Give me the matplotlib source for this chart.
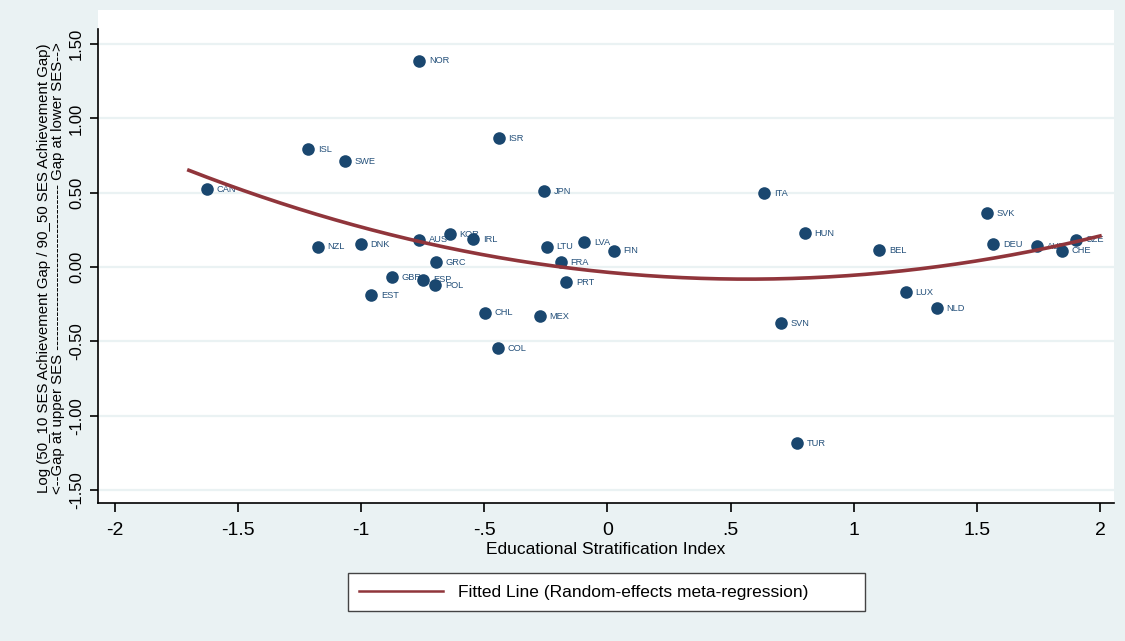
import numpy as np
import matplotlib.pyplot as plt

plt.rcParams['font.family'] = ['Liberation Sans', 'DejaVu Sans']

# country codes, stratification index, log gap ratio
countries = ['NOR', 'ISR', 'ISL', 'SWE', 'CAN', 'JPN', 'ITA', 'SVK', 'HUN',
             'NZL', 'DNK', 'AUS', 'KOR', 'IRL', 'LTU', 'LVA', 'FIN', 'BEL',
             'DEU', 'AUT', 'CZE', 'CHE', 'GRC', 'FRA', 'GBR', 'ESP', 'POL',
             'PRT', 'EST', 'LUX', 'NLD', 'CHL', 'MEX', 'SVN', 'COL', 'TUR']
esi = [-0.765, -0.441, -1.216, -1.066, -1.627, -0.258, 0.636, 1.541, 0.802,
       -1.176, -1.001, -0.765, -0.640, -0.546, -0.246, -0.095, 0.026, 1.103,
       1.566, 1.744, 1.903, 1.846, -0.696, -0.189, -0.875, -0.749, -0.700,
       -0.168, -0.960, 1.212, 1.338, -0.497, -0.274, 0.704, -0.445, 0.770]
log_gap = [1.386, 0.868, 0.794, 0.713, 0.525, 0.511, 0.498, 0.363, 0.229,
           0.135, 0.155, 0.182, 0.222, 0.188, 0.135, 0.168, 0.108, 0.114,
           0.155, 0.141, 0.182, 0.108, 0.034, 0.034, -0.067, -0.087, -0.121,
           -0.101, -0.188, -0.168, -0.276, -0.309, -0.330, -0.377, -0.545, -1.184]

# quadratic fit (random-effects meta-regression), coefficients high->low
fit_coef = [0.142, -0.162, -0.035]
fit_range = [-1.70, 2.00]

xticks = [-2, -1.5, -1, -0.5, 0, 0.5, 1, 1.5, 2]
xticklabels = ['-2', '-1.5', '-1', '-.5', '0', '.5', '1', '1.5', '2']
yticks = [-1.5, -1.0, -0.5, 0.0, 0.5, 1.0, 1.5]

bg = '#EAF2F3'
navy = '#1A476F'
maroon = '#90353B'

fig = plt.figure(figsize=(11.25, 6.41), dpi=100)
fig.patch.set_facecolor(bg)
ax = fig.add_axes([98/1125, 1-503/641, (1114-98)/1125, (503-10)/641])
ax.set_facecolor('white')

ax.set_xlim(-2.069, 2.057)
ax.set_ylim(-1.587, 1.729)

for yv in yticks:
    ax.axhline(yv, color=bg, lw=1.6, zorder=0)

ax.scatter(esi, log_gap, s=82, color=navy, zorder=3, linewidths=0)
for c, xv, yv in zip(countries, esi, log_gap):
    ax.annotate(c, (xv, yv), xytext=(7, 0), textcoords='offset points',
                fontsize=6.7, color='#24507A', va='center', ha='left', zorder=2)

xs = np.linspace(fit_range[0], fit_range[1], 300)
fit_line, = ax.plot(xs, np.polyval(fit_coef, xs), color=maroon, lw=2.6, zorder=4)

ax.spines['top'].set_visible(False)
ax.spines['right'].set_visible(False)
ax.spines['left'].set_bounds(-1.587, 1.60)
for s in ('left', 'bottom'):
    ax.spines[s].set_linewidth(1.2)
    ax.spines[s].set_color('black')

ax.set_xticks(xticks)
ax.set_xticklabels(xticklabels)
ax.set_yticks(yticks)
ax.set_yticklabels(['%.2f' % v for v in yticks], rotation=90, va='center')
ax.tick_params(axis='x', length=6.5, width=1.2, pad=7, labelsize=14)
ax.tick_params(axis='y', length=6, width=1.2, pad=4, labelsize=12)

fig.text(51/1125, 1-268/641,
         'Log (50_10 SES Achievement Gap / 90_50 SES Achievement Gap)\n'
         '<--Gap at upper SES ---------------------------------- Gap at lower SES-->',
         rotation=90, ha='center', va='center', multialignment='center',
         fontsize=10.8, linespacing=1.0)
fig.text(606/1125, 1-549/641, 'Educational Stratification Index',
         ha='center', va='center', fontsize=12.5)

leg = fig.legend([fit_line], ['Fitted Line (Random-effects meta-regression)'],
                 loc='center', mode='expand',
                 bbox_to_anchor=(348/1125, 1-612/641, (865-348)/1125, 40/641),
                 borderaxespad=0, fontsize=12.5, handlelength=4.8,
                 handletextpad=0.9, borderpad=0.65, fancybox=False,
                 edgecolor='#444444', framealpha=1)
leg.get_frame().set_linewidth(1.0)
leg.get_lines()[0].set_linewidth(1.8)

fig.savefig('out.png', dpi=100, facecolor=bg)
